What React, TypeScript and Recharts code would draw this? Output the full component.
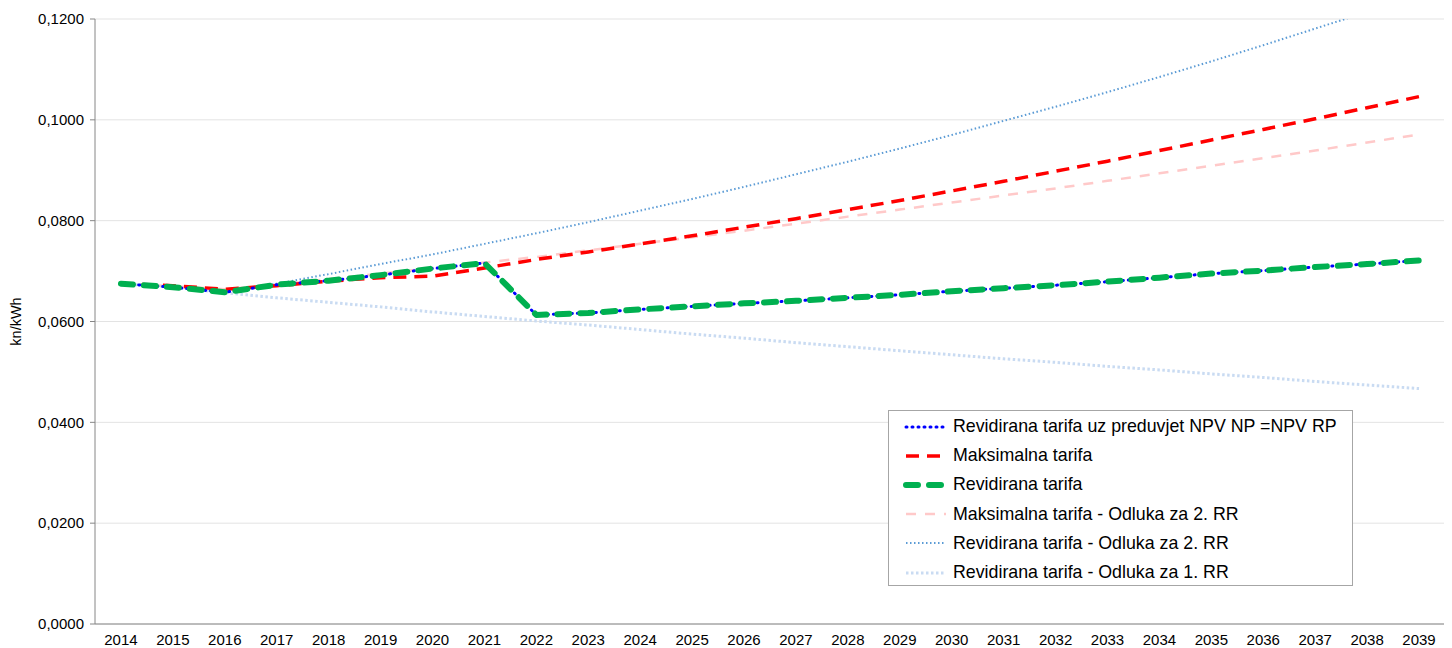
import React from 'react';
import { LineChart, Line, XAxis, YAxis, CartesianGrid } from 'recharts';

const YEARS = [
  '2014', '2015', '2016', '2017', '2018', '2019', '2020', '2021', '2022', '2023', '2024', '2025', '2026',
  '2027', '2028', '2029', '2030', '2031', '2032', '2033', '2034', '2035', '2036', '2037', '2038', '2039',
];

// Revidirana tarifa uz preduvjet NPV NP = NPV RP (same path as Revidirana tarifa)
const REV_NPV = [
  0.0675, 0.0668, 0.0658, 0.0673, 0.0681, 0.0692, 0.0705, 0.0716, 0.0613, 0.0617, 0.0624, 0.0630, 0.0636,
  0.0641, 0.0647, 0.0653, 0.0660, 0.0666, 0.0672, 0.0679, 0.0687, 0.0695, 0.0701, 0.0708, 0.0714, 0.0721,
];
const MAX_TARIFA = [
  0.0675, 0.0671, 0.0664, 0.0671, 0.0680, 0.0687, 0.0690, 0.0706, 0.0723, 0.0738, 0.0754, 0.0770, 0.0787,
  0.0804, 0.0822, 0.0840, 0.0859, 0.0878, 0.0898, 0.0918, 0.0939, 0.0960, 0.0981, 0.1002, 0.1024, 0.1046,
];
const REV_TARIFA = [
  0.0675, 0.0668, 0.0658, 0.0673, 0.0681, 0.0692, 0.0705, 0.0716, 0.0613, 0.0617, 0.0624, 0.0630, 0.0636,
  0.0641, 0.0647, 0.0653, 0.0660, 0.0666, 0.0672, 0.0679, 0.0687, 0.0695, 0.0701, 0.0708, 0.0714, 0.0721,
];
const MAX_RR2 = [
  0.0675, 0.0670, 0.0664, 0.0673, 0.0684, 0.0695, 0.0706, 0.0717, 0.0728, 0.0741, 0.0754, 0.0767, 0.0780,
  0.0794, 0.0808, 0.0822, 0.0836, 0.0850, 0.0864, 0.0879, 0.0894, 0.0909, 0.0924, 0.0939, 0.0955, 0.0971,
];
const REV_RR2 = [
  0.0675, 0.0668, 0.0658, 0.0675, 0.0694, 0.0714, 0.0733, 0.0754, 0.0775, 0.0797, 0.0820, 0.0843, 0.0867,
  0.0892, 0.0917, 0.0943, 0.0970, 0.0998, 0.1026, 0.1055, 0.1085, 0.1116, 0.1148, 0.1181, 0.1214, 0.1249,
];
const REV_RR1 = [
  0.0675, 0.0668, 0.0657, 0.0647, 0.0638, 0.0629, 0.0619, 0.0610, 0.0601, 0.0593, 0.0584, 0.0575, 0.0567,
  0.0558, 0.0550, 0.0542, 0.0534, 0.0526, 0.0519, 0.0511, 0.0504, 0.0496, 0.0489, 0.0481, 0.0474, 0.0467,
];

const Y_TICKS = [0, 0.02, 0.04, 0.06, 0.08, 0.1, 0.12];

const data = YEARS.map((year, i) => ({
  idx: i,
  year,
  revNpv: REV_NPV[i],
  maxTarifa: MAX_TARIFA[i],
  revTarifa: REV_TARIFA[i],
  maxRr2: MAX_RR2[i],
  revRr2: REV_RR2[i],
  revRr1: REV_RR1[i],
}));

const labelTicks = YEARS.map((_, i) => i);
const boundaryTicks = [...YEARS.map((_, i) => i - 0.5), YEARS.length - 0.5];

// legend order as in the reference
const SERIES = [
  { key: 'revNpv', name: 'Revidirana tarifa uz preduvjet NPV NP =NPV RP', color: '#0000ff', width: 3, dash: '1 5', cap: 'round' },
  { key: 'maxTarifa', name: 'Maksimalna tarifa', color: '#ff0000', width: 3.5, dash: '13 8', cap: 'butt' },
  { key: 'revTarifa', name: 'Revidirana tarifa', color: '#00b050', width: 6, dash: '12 11', cap: 'round' },
  { key: 'maxRr2', name: 'Maksimalna tarifa - Odluka za 2. RR', color: '#ffc9c9', width: 2.5, dash: '10 9', cap: 'butt' },
  { key: 'revRr2', name: 'Revidirana tarifa - Odluka za 2. RR', color: '#5b9bd5', width: 2, dash: '1.5 2.5', cap: 'butt' },
  { key: 'revRr1', name: 'Revidirana tarifa - Odluka za 1. RR', color: '#c9dbf2', width: 3, dash: '2.5 2.5', cap: 'butt' },
];

// drawing order: faint lines first, green over blue
const DRAW_ORDER = ['revRr1', 'maxRr2', 'revRr2', 'maxTarifa', 'revNpv', 'revTarifa'];

const FONT = '"Liberation Sans", Arial, sans-serif';
const fmt = (v: number) => v.toFixed(4).replace('.', ',');

const ChartLegend = () => (
  <div
    style={{
      position: 'absolute',
      left: 880,
      top: 402,
      width: 463,
      height: 173,
      border: '1px solid #a6a6a6',
      background: '#fff',
      fontFamily: FONT,
      fontSize: 17.8,
      color: '#000',
      paddingTop: 1,
    }}
  >
    {SERIES.map((s) => (
      <div key={s.key} style={{ display: 'flex', alignItems: 'center', height: 29.2 }}>
        <svg width={64} height={12} style={{ flexShrink: 0 }}>
          <line
            x1={17}
            x2={57}
            y1={6}
            y2={6}
            stroke={s.color}
            strokeWidth={s.width}
            strokeDasharray={s.dash}
            strokeLinecap={s.cap as any}
          />
        </svg>
        <span style={{ whiteSpace: 'nowrap' }}>{s.name}</span>
      </div>
    ))}
  </div>
);

export default function App() {
  return (
    <div style={{ position: 'relative', width: 1444, height: 640, background: '#fff' }}>
      <LineChart width={1444} height={640} data={data} margin={{ top: 11, right: 7, left: 0, bottom: 0 }}>
        <CartesianGrid horizontal vertical={false} stroke="#e3e3e3" />
        <XAxis
          xAxisId="bounds"
          type="number"
          domain={[-0.5, YEARS.length - 0.5]}
          ticks={boundaryTicks}
          allowDataOverflow
          tick={false}
          tickLine={{ stroke: '#868686' }}
          tickSize={5}
          axisLine={false}
          height={0}
        />
        <XAxis
          dataKey="idx"
          type="number"
          domain={[-0.5, YEARS.length - 0.5]}
          ticks={labelTicks}
          allowDataOverflow
          interval={0}
          tickFormatter={(i: number) => YEARS[i]}
          tickLine={false}
          axisLine={{ stroke: '#868686' }}
          tick={{ fill: '#000', fontSize: 15, fontFamily: FONT }}
          tickMargin={4}
          height={24}
        />
        <YAxis
          type="number"
          domain={[0, 0.12]}
          ticks={Y_TICKS}
          allowDataOverflow
          width={87}
          tickFormatter={fmt}
          tickSize={5}
          tickMargin={6}
          tickLine={{ stroke: '#868686' }}
          axisLine={{ stroke: '#868686' }}
          tick={{ fill: '#000', fontSize: 15, fontFamily: FONT }}
          label={{
            value: 'kn/kWh',
            angle: -90,
            position: 'insideLeft',
            offset: 0,
            dx: 8,
            style: { fill: '#000', fontSize: 14.5, fontFamily: FONT, textAnchor: 'middle' },
          }}
        />
        {DRAW_ORDER.map((k) => {
          const s = SERIES.find((x) => x.key === k)!;
          return (
            <Line
              key={s.key}
              type="linear"
              dataKey={s.key}
              name={s.name}
              stroke={s.color}
              strokeWidth={s.width}
              strokeDasharray={s.dash}
              strokeLinecap={s.cap as any}
              strokeLinejoin="round"
              dot={false}
              activeDot={false}
              isAnimationActive={false}
            />
          );
        })}
      </LineChart>
      <ChartLegend />
    </div>
  );
}
